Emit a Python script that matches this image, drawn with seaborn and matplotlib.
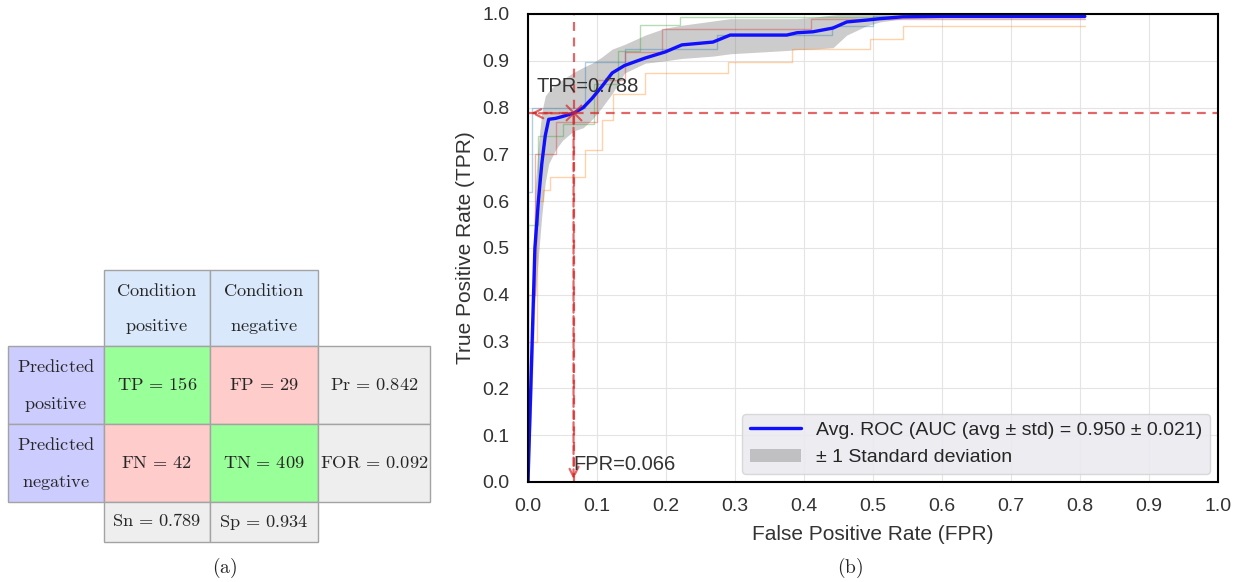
import numpy as np
import matplotlib.pyplot as plt
import seaborn as sns
from matplotlib.patches import Rectangle

sns.set_style('whitegrid', {'axes.edgecolor': 'black', 'grid.color': '#e4e4e4'})
plt.rcParams['font.family'] = ['Liberation Sans', 'DejaVu Sans']
plt.rcParams['mathtext.fontset'] = 'cm'

# ---- (a) confusion matrix values
tp, fp, fn, tn = 156, 29, 42, 409
precision, false_omission = 0.842, 0.092
sensitivity, specificity = 0.789, 0.934

# ---- (b) ROC values
fpr_grid = [0, 0.005, 0.01, 0.015, 0.02, 0.025, 0.03, 0.04, 0.05, 0.066, 0.08, 0.093,
            0.107, 0.122, 0.14, 0.17, 0.199, 0.223, 0.268, 0.293, 0.375, 0.39, 0.413,
            0.442, 0.462, 0.491, 0.51, 0.543, 0.6, 0.7, 0.807]
mean_tpr = [0, 0.25, 0.5, 0.6, 0.68, 0.74, 0.775, 0.777, 0.781, 0.788, 0.80, 0.82,
            0.845, 0.874, 0.89, 0.906, 0.919, 0.934, 0.94, 0.955, 0.955, 0.96, 0.962,
            0.97, 0.983, 0.987, 0.99, 0.994, 0.995, 0.995, 0.995]
upper_tpr = [0, 0.35, 0.62, 0.72, 0.79, 0.825, 0.835, 0.85, 0.86, 0.875, 0.886, 0.895,
             0.908, 0.925, 0.935, 0.955, 0.97, 0.976, 0.985, 0.99, 0.99, 0.99, 0.993,
             0.998, 1.0, 1.0, 1.0, 1.0, 1.0, 1.0, 1.0]
lower_tpr = [0, 0.15, 0.38, 0.48, 0.57, 0.64, 0.68, 0.71, 0.73, 0.75, 0.757, 0.775,
             0.8, 0.83, 0.874, 0.895, 0.9, 0.905, 0.91, 0.915, 0.922, 0.924, 0.925,
             0.928, 0.955, 0.975, 0.983, 0.99, 0.991, 0.991, 0.991]

fold_blue_fpr = [0, 0, 0.006, 0.006, 0.083, 0.083, 0.14, 0.14, 0.274, 0.274, 0.44, 0.44, 0.5, 0.5, 0.807]
fold_blue_tpr = [0, 0.62, 0.62, 0.80, 0.80, 0.897, 0.897, 0.925, 0.925, 0.955, 0.955, 0.975, 0.975, 0.995, 0.995]
fold_orange_fpr = [0, 0, 0.013, 0.013, 0.022, 0.022, 0.032, 0.032, 0.083, 0.083, 0.107, 0.107,
                   0.123, 0.123, 0.17, 0.17, 0.29, 0.29, 0.383, 0.383, 0.496, 0.496, 0.543, 0.543, 0.807]
fold_orange_tpr = [0, 0.30, 0.30, 0.60, 0.60, 0.624, 0.624, 0.652, 0.652, 0.71, 0.71, 0.773,
                   0.773, 0.83, 0.83, 0.874, 0.874, 0.897, 0.897, 0.925, 0.925, 0.947, 0.947, 0.974, 0.974]
fold_green_fpr = [0, 0, 0.015, 0.015, 0.05, 0.05, 0.095, 0.095, 0.13, 0.13, 0.162, 0.162, 0.22, 0.22, 0.807]
fold_green_tpr = [0, 0.55, 0.55, 0.74, 0.74, 0.765, 0.765, 0.85, 0.85, 0.92, 0.92, 0.976, 0.976, 0.994, 0.994]
fold_red_fpr = [0, 0, 0.01, 0.01, 0.04, 0.04, 0.1, 0.1, 0.14, 0.14, 0.194, 0.194, 0.41, 0.41, 0.807]
fold_red_tpr = [0, 0.40, 0.40, 0.70, 0.70, 0.77, 0.77, 0.86, 0.86, 0.919, 0.919, 0.968, 0.968, 0.99, 0.99]

auc_mean, auc_std = 0.950, 0.021
op_fpr, op_tpr = 0.066, 0.788

fig = plt.figure(figsize=(12.45, 5.82), dpi=100)

# ================= (a) table =================
col_w = [96, 106, 108, 112]
row_h = [76, 78, 78, 40]
x_edges = np.concatenate([[0], np.cumsum(col_w)])
y_edges = np.concatenate([[0], np.cumsum(row_h)])

blue_h, purple_h, green, pink, grey = '#dae8fc', '#ccccff', '#99ff99', '#ffcccc', '#eeeeee'
cells = [
    (0, 1, 'Condition\npositive', blue_h),
    (0, 2, 'Condition\nnegative', blue_h),
    (1, 0, 'Predicted\npositive', purple_h),
    (1, 1, f'TP = {tp}', green),
    (1, 2, f'FP = {fp}', pink),
    (1, 3, f'Pr = {precision:.3f}', grey),
    (2, 0, 'Predicted\nnegative', purple_h),
    (2, 1, f'FN = {fn}', pink),
    (2, 2, f'TN = {tn}', green),
    (2, 3, f'FOR = {false_omission:.3f}', grey),
    (3, 1, f'Sn = {sensitivity:.3f}', grey),
    (3, 2, f'Sp = {specificity:.3f}', grey),
]


def to_math(s):
    if ' = ' in s:
        a, b = s.split(' = ')
        return rf'$\mathrm{{{a}}}\,=\,{b}$'
    return rf'$\mathrm{{{s}}}$'


tax = fig.add_axes([8 / 1245, 40 / 582, 422 / 1245, 272 / 582])
tax.set_xlim(0, x_edges[-1])
tax.set_ylim(y_edges[-1], 0)
tax.axis('off')
for r, c, label, color in cells:
    tax.add_patch(Rectangle((x_edges[c], y_edges[r]), col_w[c], row_h[r],
                            facecolor=color, edgecolor='#a3a3a3', lw=1, clip_on=False))
    cx = x_edges[c] + col_w[c] / 2
    lines = label.split('\n')
    if len(lines) == 1:
        tax.text(cx, y_edges[r] + row_h[r] / 2, to_math(lines[0]), ha='center', va='center',
                 fontsize=13.2, color='#262626')
    else:
        for k, ln in enumerate(lines):
            tax.text(cx, y_edges[r] + row_h[r] * (0.28 + 0.47 * k), to_math(ln),
                     ha='center', va='center', fontsize=13.2, color='#262626')

# ================= (b) ROC =================
ax = fig.add_axes([528 / 1245, 100 / 582, 690 / 1245, 468 / 582])
folds = [(fold_blue_fpr, fold_blue_tpr, 'C0'), (fold_orange_fpr, fold_orange_tpr, 'C1'),
         (fold_green_fpr, fold_green_tpr, 'C2'), (fold_red_fpr, fold_red_tpr, 'C3')]
for fx, fy, col in folds:
    sns.lineplot(x=fx, y=fy, estimator=None, sort=False, color=col, alpha=0.35, lw=1, ax=ax)

ax.fill_between(fpr_grid, lower_tpr, upper_tpr, color='grey', alpha=0.4, lw=0,
                label='± 1 Standard deviation')
sns.lineplot(x=fpr_grid, y=mean_tpr, estimator=None, sort=False, color='#1010ff', lw=2.4,
             label=f'Avg. ROC (AUC (avg ± std) = {auc_mean:.3f} ± {auc_std:.3f})', ax=ax)

red = '#d62728'
ax.axhline(op_tpr, color=red, ls=(0, (4, 3)), lw=1.6, alpha=0.7)
ax.axvline(op_fpr, color=red, ls=(0, (4, 3)), lw=1.6, alpha=0.7)
arrow_style = dict(arrowstyle='->', color=red, lw=1.6, alpha=0.7, ls='--', mutation_scale=18)
ax.annotate('', xy=(0, op_tpr), xytext=(op_fpr, op_tpr), arrowprops=arrow_style)
ax.annotate('', xy=(op_fpr, 0), xytext=(op_fpr, op_tpr), arrowprops=arrow_style)
ax.plot(op_fpr, op_tpr, 'x', color=red, ms=12, mew=1.5, alpha=0.7)
ax.text(0.013, 0.833, f'TPR={op_tpr:.3f}', fontsize=14.5, color='#333333')
ax.text(op_fpr, 0.026, f'FPR={op_fpr:.3f}', fontsize=14.5, color='#333333')

ax.set_xlim(0, 1)
ax.set_ylim(0, 1)
ax.set_xticks(np.arange(0, 1.01, 0.1))
ax.set_yticks(np.arange(0, 1.01, 0.1))
ax.tick_params(labelsize=14, colors='#333333')
ax.tick_params(axis='y', pad=10)
ax.tick_params(axis='x', pad=8)
for s in ax.spines.values():
    s.set_color('black')
    s.set_linewidth(1.5)
ax.set_xlabel('False Positive Rate (FPR)', fontsize=15, color='#333333', labelpad=7)
ax.set_ylabel('True Positive Rate (TPR)', fontsize=15, color='#333333', labelpad=5)

h, l = ax.get_legend_handles_labels()
order = [l.index(x) for x in l if x.startswith('Avg')] + [l.index(x) for x in l if x.startswith('±')]
ax.legend([h[i] for i in order], [l[i] for i in order], loc='lower right', fontsize=14,
          facecolor='#eaeaf0', edgecolor='#d5d5d5', framealpha=0.9, handlelength=2.6,
          borderaxespad=0.4)

fig.text(225 / 1245, 1 - 568 / 582, r'$\mathrm{(a)}$', ha='center', va='center', fontsize=14)
fig.text(850 / 1245, 1 - 568 / 582, r'$\mathrm{(b)}$', ha='center', va='center', fontsize=14)

fig.savefig('out.png', dpi=100)
